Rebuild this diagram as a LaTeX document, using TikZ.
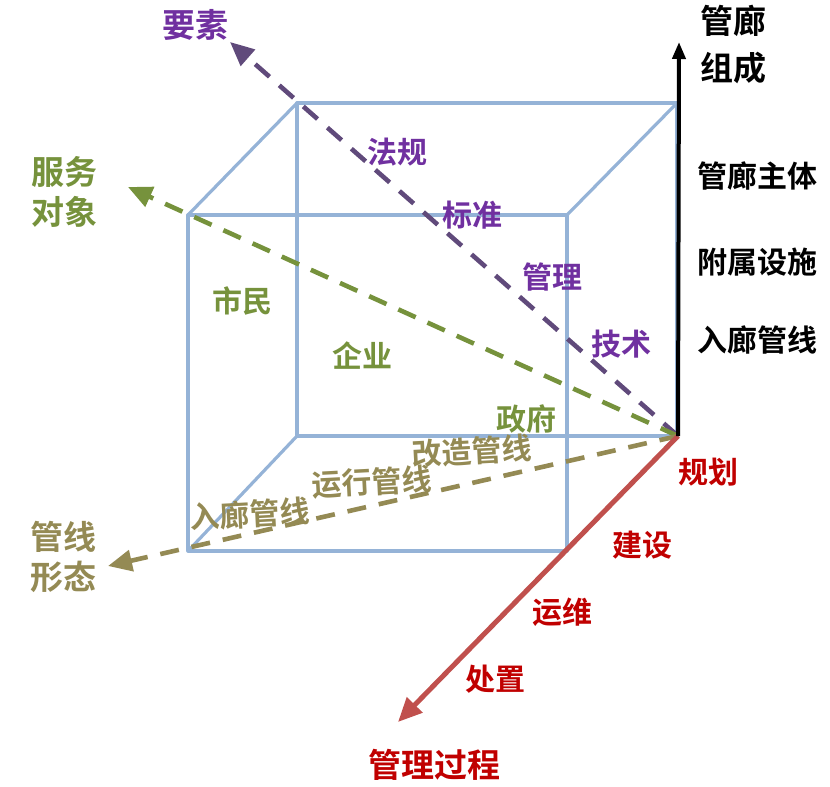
\documentclass[tikz,border=0pt]{standalone}
\usepackage{fontspec}
\setmainfont{Noto Sans CJK SC}[BoldFont={Noto Sans CJK SC Bold}]
\usetikzlibrary{arrows.meta}

\definecolor{cubocol}{HTML}{95B3D7}
\definecolor{viola}{HTML}{7030A0}
\definecolor{violalinea}{HTML}{604A7B}
\definecolor{verde}{HTML}{76923C}
\definecolor{oliva}{HTML}{948A54}
\definecolor{rosso}{HTML}{C00000}
\definecolor{rossolinea}{HTML}{C0504D}

\begin{document}
\begin{tikzpicture}[x=1pt, y=-1pt,
		spigolo/.style={line width=3.2pt, cubocol, line join=round},
		asseZ/.style={-{Triangle[length=17pt,width=13pt]}, line width=4pt, black},
		tratto/.style={dash pattern=on 19pt off 13pt, line width=4.6pt, -{Triangle[length=24pt,width=21pt]}},
		asseR/.style={-{Triangle[length=24pt,width=21pt]}, line width=5pt, rossolinea},
		lab/.style={font=\fontsize{30}{32}\selectfont\bfseries, inner sep=0pt},
		tit/.style={font=\fontsize{33}{40}\selectfont\bfseries, inner sep=0pt, align=center},
	]
	
	\useasboundingbox (0,0) rectangle (830,787);
	
	%%=== CUBO ===============================================
	% faccia anteriore
	\coordinate (fA) at (188,215); \coordinate (fB) at (567,215);
	\coordinate (fC) at (567,551); \coordinate (fD) at (188,551);
	% faccia posteriore
	\coordinate (bA) at (297,103); \coordinate (bB) at (677,103);
	\coordinate (bC) at (677,436); \coordinate (bD) at (297,436);
	\draw[spigolo] (fA) rectangle (fC);
	\draw[spigolo] (bA) rectangle (bC);
	\draw[spigolo] (fA) -- (bA);
	\draw[spigolo] (fB) -- (bB);
	\draw[spigolo] (fD) -- (bD);
	
	%%=== ASSI ===============================================
	\coordinate (O) at (678,436);
	\coordinate (zTip) at (679,42);
	\coordinate (pTip) at (230,42);
	\coordinate (gTip) at (128,187);
	\coordinate (oTip) at (108,566);
	\coordinate (rTip) at (398,722);
	
	\draw[tratto, violalinea] (O) -- (pTip);   % elementi
	\draw[tratto, verde] (O) -- (gTip);        % utenti
	\draw[tratto, oliva] (O) -- (oTip);        % condotte
	\draw[asseR] (O) -- (rTip);                % processo
	\draw[asseZ] (O) -- (zTip);                % componenti
	
	%%=== ETICHETTE ==========================================
	% componenti (nero)
	\node[tit] (zT) at (733,45) {管廊\\[7pt]组成};
	\node[lab] (z1) at (757,176) {管廊主体};
	\node[lab] (z2) at (757,262) {附属设施};
	\node[lab] (z3) at (757,340) {入廊管线};
	
	% elementi (viola)
	\node[tit, viola] (pT) at (195,25) {要素};
	\node[lab, viola] (p1) at (397,152) {法规};
	\node[lab, viola] (p2) at (472,215) {标准};
	\node[lab, viola] (p3) at (552,277) {管理};
	\node[lab, viola] (p4) at (621,344) {技术};
	
	% utenti (verde)
	\node[tit, verde] (gT) at (64,192) {服务\\对象};
	\node[lab, verde] (g1) at (242,301) {市民};
	\node[lab, verde] (g2) at (362,356) {企业};
	\node[lab, verde] (g3) at (526,419) {政府};
	
	% condotte (oliva)
	\node[tit, oliva] (oT) at (63,557) {管线\\形态};
	\node[lab, oliva, rotate=3] (o1) at (472,451) {改造管线};
	\node[lab, oliva, rotate=3] (o2) at (372,482) {运行管线};
	\node[lab, oliva, rotate=3] (o3) at (250,514) {入廊管线};
	
	% processo (rosso)
	\node[lab, rosso] (r1) at (708,472) {规划};
	\node[lab, rosso] (r2) at (642,545) {建设};
	\node[lab, rosso] (r3) at (562,612) {运维};
	\node[lab, rosso] (r4) at (495,679) {处置};
	\node[tit, rosso] (rT) at (434,765) {管理过程};
	
\end{tikzpicture}
\end{document}
